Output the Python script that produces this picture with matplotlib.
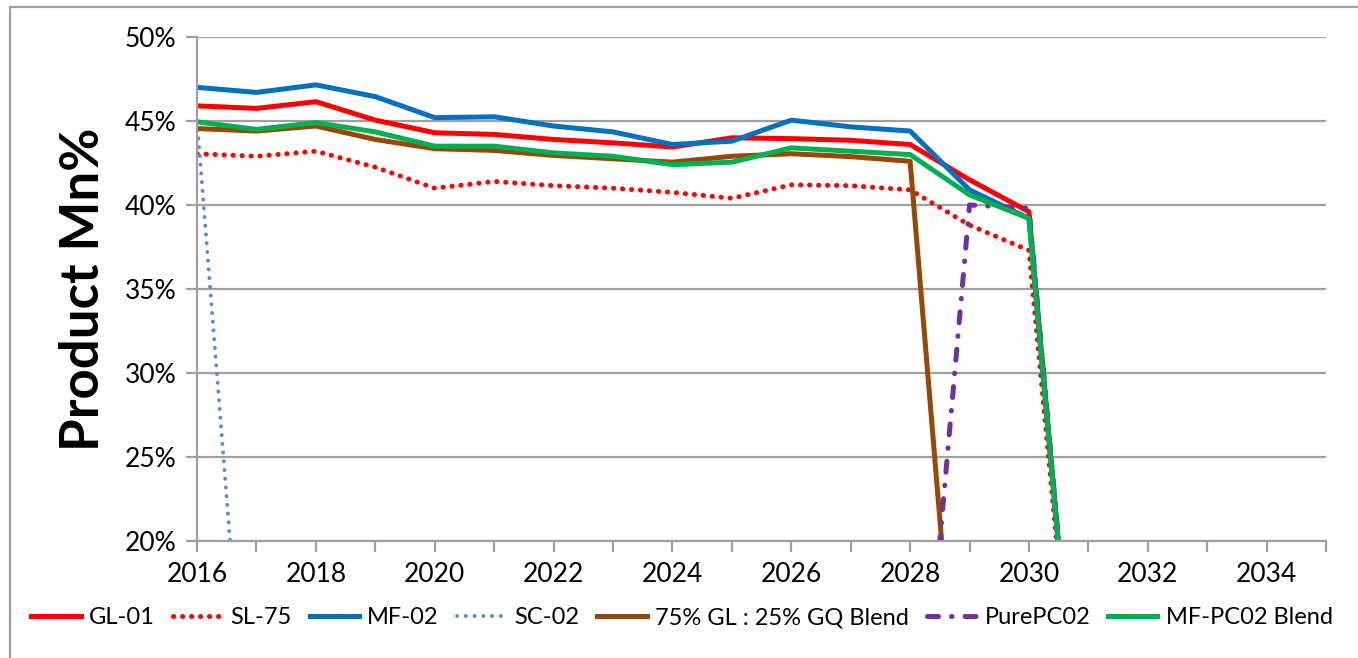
import numpy as np
import matplotlib.pyplot as plt
from matplotlib.lines import Line2D

plt.rcParams['font.family'] = ['Lato', 'DejaVu Sans']

years = np.arange(2016, 2036)

# product Mn% per scenario, yearly; 0 once the source is exhausted
gl_01 = [45.9, 45.75, 46.15, 45.05, 44.3, 44.2, 43.9, 43.7, 43.45, 44.0,
         43.95, 43.85, 43.6, 41.5, 39.6, 0, 0, 0, 0, 0]
sl_75 = [43.05, 42.9, 43.2, 42.25, 41.0, 41.4, 41.15, 41.0, 40.75, 40.4,
         41.2, 41.15, 40.9, 38.8, 37.3, 0, 0, 0, 0, 0]
mf_02 = [47.0, 46.7, 47.15, 46.45, 45.2, 45.25, 44.7, 44.35, 43.6, 43.8,
         45.05, 44.65, 44.4, 40.9, 39.2, 0, 0, 0, 0, 0]
sc_02 = [45.0, 0, 0, 0, 0, 0, 0, 0, 0, 0,
         0, 0, 0, 0, 0, 0, 0, 0, 0, 0]
gl_gq_blend = [44.55, 44.4, 44.7, 43.9, 43.35, 43.25, 42.95, 42.75, 42.55, 42.9,
               43.05, 42.88, 42.6, 0, 0, 0, 0, 0, 0, 0]
pure_pc02 = [0, 0, 0, 0, 0, 0, 0, 0, 0, 0,
             0, 0, 0, 40.0, 39.8, 0, 0, 0, 0, 0]
mf_pc02_blend = [44.95, 44.5, 44.9, 44.35, 43.5, 43.5, 43.1, 42.9, 42.4, 42.55,
                 43.4, 43.2, 43.0, 40.6, 39.2, 0, 0, 0, 0, 0]

fig = plt.figure(figsize=(13.58, 6.58), dpi=100)
ax = fig.add_axes([0.1451, 0.1778, 0.8314, 0.766])

lw = 3.6
ax.plot(years, gl_01, color='#FF0000', lw=lw, label='GL-01')
ax.plot(years, sl_75, color='#FF0000', lw=lw, linestyle=(0, (0.05, 1.75)),
        dash_capstyle='round', label='SL-75')
ax.plot(years, mf_02, color='#0070C0', lw=lw, label='MF-02')
ax.plot(years, sc_02, color='#558ED5', lw=2.8, linestyle=(0, (0.05, 2.2)),
        dash_capstyle='round', label='SC-02')
ax.plot(years, gl_gq_blend, color='#974706', lw=lw, label='75% GL : 25% GQ Blend')
ax.plot(years, pure_pc02, color='#7030A0', lw=lw, linestyle=(0, (2.2, 2.6, 0.1, 2.6)),
        dash_capstyle='round', label='PurePC02')
ax.plot(years, mf_pc02_blend, color='#00B050', lw=lw, label='MF-PC02 Blend')

ax.set_xlim(2016, 2035)
ax.set_ylim(20, 50)
ax.set_xticks(np.arange(2016, 2035, 2))
ax.set_xticks(np.arange(2016, 2036, 1), minor=True)
ax.set_yticks(np.arange(20, 51, 5))
ax.set_yticklabels([f'{v}%' for v in range(20, 51, 5)])

grid_c = '#A0A0A0'
ax.grid(axis='y', color=grid_c, lw=1.6)
ax.set_axisbelow(True)
for side in ['top', 'right']:
    ax.spines[side].set_visible(False)
for side in ['left', 'bottom']:
    ax.spines[side].set_color(grid_c)
    ax.spines[side].set_linewidth(1.6)
ax.tick_params(axis='both', which='both', direction='out', color=grid_c,
               width=1.6, labelsize=19)
ax.tick_params(axis='x', which='both', length=8, pad=7)
ax.tick_params(axis='y', length=8, pad=7)

ax.set_ylabel('Product Mn%', fontsize=38, fontweight='bold', labelpad=12)

ax.legend(loc='center', bbox_to_anchor=(682 / 1358, 1 - 618 / 658),
          bbox_transform=fig.transFigure, ncol=7, frameon=False, fontsize=17,
          handlelength=2.1, handletextpad=0.35, columnspacing=0.75)

# chart area border
fig.add_artist(Line2D([10 / 1358, 1.0], [1 - 7 / 658] * 2, color=grid_c,
                      lw=1.6, transform=fig.transFigure))
fig.add_artist(Line2D([10 / 1358] * 2, [0.0, 1 - 7 / 658], color=grid_c,
                      lw=1.6, transform=fig.transFigure))

fig.savefig('out.png', dpi=100)
